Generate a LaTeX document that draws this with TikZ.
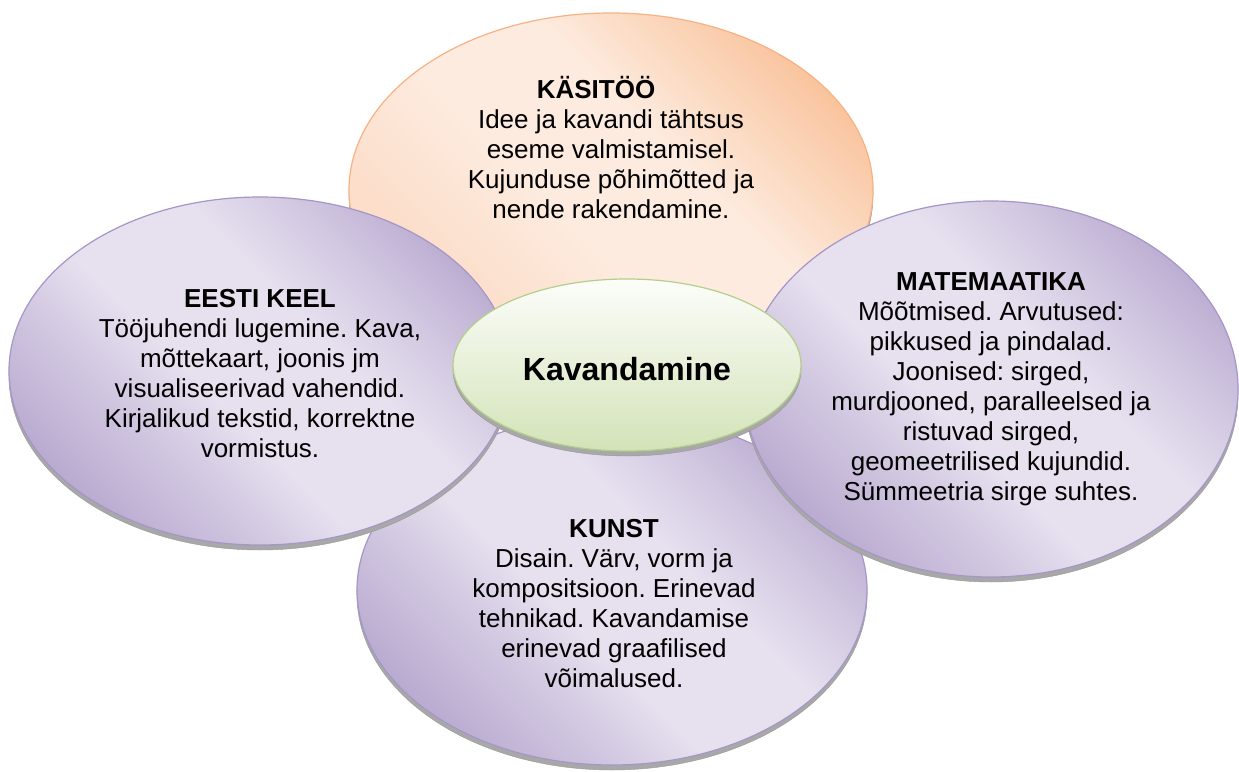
\documentclass[tikz,border=0pt]{standalone}
\usepackage{fontspec}
\setmainfont{Liberation Sans}
\usetikzlibrary{shapes.geometric,shadows}
\definecolor{pdark}{HTML}{B8A9CF}
\definecolor{pmid}{HTML}{D2C8E1}
\definecolor{plight}{HTML}{E6E0EF}
\definecolor{pline}{HTML}{A596C7}
\definecolor{odark}{HTML}{F9C39B}
\definecolor{omid}{HTML}{FCDECA}
\definecolor{olight}{HTML}{FDEBDF}
\definecolor{oline}{HTML}{F6B284}
\definecolor{gtop}{HTML}{FCFDFA}
\definecolor{gbot}{HTML}{D3E3B8}
\definecolor{gline}{HTML}{B3CF8A}
\definecolor{rimgray}{HTML}{A8A8A8}
\pgfdeclarehorizontalshading{purpsh}{100bp}{color(0bp)=(pdark); color(24bp)=(pdark); color(36bp)=(pmid); color(44bp)=(plight); color(58bp)=(plight); color(67bp)=(pmid); color(77bp)=(pdark); color(100bp)=(pdark)}
\pgfdeclarehorizontalshading{orsh}{100bp}{color(0bp)=(omid); color(30bp)=(omid); color(44bp)=(olight); color(58bp)=(olight); color(76bp)=(odark); color(100bp)=(odark)}
\newcommand{\tstr}{\rule{0pt}{25pt}}
\lineskiplimit=-100pt
\frenchspacing
\tikzset{
  bubble/.style={ellipse, inner sep=0pt, line width=1.2pt,
    drop shadow={shadow xshift=0pt, shadow yshift=-5pt, fill=rimgray, draw=gray!80, line width=0.4pt, opacity=1}},
  purpb/.style={bubble, draw=pline, shade, shading=purpsh, shading angle=45},
  orb/.style={bubble, draw=oline, shade, shading=orsh, shading angle=45},
  grb/.style={bubble, draw=gline, top color=gtop, bottom color=gbot},
  txt/.style={align=center, inner sep=0pt, anchor=north,
    font=\fontsize{26}{30}\selectfont},
}
\begin{document}
\begin{tikzpicture}[x=1pt,y=-1pt]
\fill[white] (0,0) rectangle (1239,771);
\useasboundingbox (0,0) rectangle (1239,771);

\node[orb, minimum width=524pt, minimum height=354pt] (kasitoo) at (611,190) {};
\node[purpb, minimum width=510pt, minimum height=350pt] (kunst) at (612,590) {};
\node[purpb, minimum width=502pt, minimum height=348pt] (eesti) at (260,371) {};
\node[purpb, minimum width=494pt, minimum height=376pt] (mate) at (991,389) {};
\node[grb, minimum width=348pt, minimum height=172pt] (kesk) at (627,365) {};

\node[txt] (tkasitoo) at (611,73) {\tstr\textbf{KÄSITÖÖ}\hspace*{30pt}\\Idee ja kavandi tähtsus\\eseme valmistamisel.\\Kujunduse põhimõtted ja\\nende rakendamine.};
\node[txt] (teesti) at (260,282) {\tstr\textbf{EESTI KEEL}\\Tööjuhendi lugemine. Kava,\\mõttekaart, joonis jm\\visualiseerivad vahendid.\\Kirjalikud tekstid, korrektne\\vormistus.};
\node[txt] (tmate) at (991,265) {\tstr\textbf{MATEMAATIKA}\\Mõõtmised. Arvutused:\\pikkused ja pindalad.\\Joonised: sirged,\\murdjooned, paralleelsed ja\\ristuvad sirged,\\geomeetrilised kujundid.\\Sümmeetria sirge suhtes.};
\node[txt] (tkunst) at (614,512) {\tstr\textbf{KUNST}\\Disain. Värv, vorm ja\\kompositsioon. Erinevad\\tehnikad. Kavandamise\\erinevad graafilised\\võimalused.};
\node[inner sep=0pt, anchor=base, font=\fontsize{32}{38}\selectfont\bfseries] (tkesk) at (627,380) {Kavandamine};
\end{tikzpicture}
\end{document}
